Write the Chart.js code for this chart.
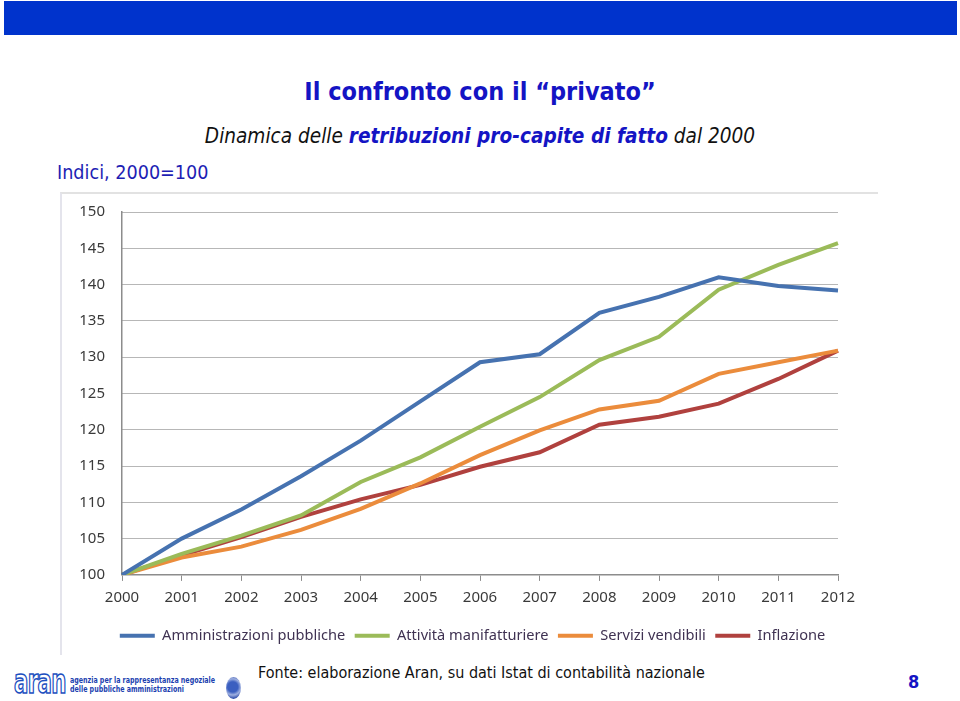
<!DOCTYPE html>
<html>
<head>
<meta charset="utf-8">
<script src="https://cdn.jsdelivr.net/npm/chart.js@4/dist/chart.umd.min.js"></script>
<style>
    body { margin: 0; width: 960px; height: 701px; background: #fff; position: relative; overflow: hidden; font-family: "DejaVu Sans Condensed", "DejaVu Sans", sans-serif; }
    .topbar { position: absolute; left: 4px; top: 1px; width: 953px; height: 34px; background: #0033cc; }
    .title { position: absolute; left: 0; width: 960px; top: 77px; text-align: center; font-size: 25px; font-weight: bold; color: #1414c4; }
    .subtitle { position: absolute; left: 0; width: 960px; top: 124px; text-align: center; font-size: 20.6px; font-style: italic; color: #111; }
    .subtitle b { color: #1414c4; }
    .indici { position: absolute; left: 57px; top: 161px; font-size: 19.6px; color: #1e1eb4; }
    .frame { position: absolute; left: 60px; top: 192px; width: 818px; height: 463px; border-top: 2px solid #e2e2e2; border-left: 2px solid #e4e4ec; box-sizing: border-box; }
    #chart { position: absolute; left: 61px; top: 193px; }
    .fonte { position: absolute; left: 258px; top: 663px; font-size: 16px; color: #111; }
    .page { position: absolute; left: 908px; top: 671px; font-size: 18px; font-weight: bold; color: #1414c4; }
    .logo { position: absolute; left: 14px; top: 664px; font-size: 33px; font-weight: bold; color: #fff; -webkit-text-stroke: 1.6px #1c4fc0; line-height: 36px; letter-spacing: -1px; transform: scaleX(0.72); transform-origin: left; }
    .logo-txt { position: absolute; left: 70px; top: 676px; font-size: 9px; font-weight: bold; color: #1c3fb0; line-height: 9px; white-space: nowrap; transform: scaleX(0.78); transform-origin: left; }
    .emblem { position: absolute; left: 226px; top: 677px; width: 15px; height: 22px; border-radius: 50%; background: radial-gradient(circle at 45% 45%, #3b5fc0 0 35%, #9fb0e0 55%, #2b4aa8 80%); }
</style>
</head>
<body>
<div class="topbar"></div>
<div class="title">Il confronto con il “privato”</div>
<div class="subtitle">Dinamica delle <b>retribuzioni pro-capite di fatto</b> dal 2000</div>
<div class="indici">Indici, 2000=100</div>
<div class="frame"></div>
<canvas id="chart" width="817" height="462"></canvas>
<div class="logo">aran</div>
<div class="logo-txt">agenzia per la rappresentanza negoziale<br>delle pubbliche amministrazioni</div>
<div class="emblem"></div>
<div class="fonte">Fonte: elaborazione Aran, su dati Istat di contabilità nazionale</div>
<div class="page">8</div>
<script>
    const years = ['2000', '2001', '2002', '2003', '2004', '2005', '2006', '2007', '2008', '2009', '2010', '2011', '2012'];
    const amministrazioni = [100, 105.0, 109.0, 113.6, 118.5, 123.9, 129.3, 130.4, 136.1, 138.3, 141.0, 139.8, 139.2];
    const manifatturiere = [100, 102.9, 105.4, 108.2, 112.8, 116.2, 120.4, 124.5, 129.6, 132.8, 139.3, 142.7, 145.7];
    const servizi = [100, 102.4, 103.9, 106.2, 109.1, 112.6, 116.5, 119.9, 122.8, 124.0, 127.7, 129.3, 130.9];
    const inflazione = [100, 102.7, 105.2, 108.0, 110.4, 112.4, 114.9, 116.9, 120.7, 121.8, 123.6, 127.0, 130.9];
    const seriesNames = ['Amministrazioni pubbliche', 'Attività manifatturiere', 'Servizi vendibili', 'Inflazione'];
    const seriesColors = ['#4672b0', '#9bbb59', '#eb8c3c', '#b0413e'];

    const seriesData = [amministrazioni, manifatturiere, servizi, inflazione];

    // the slide's legend sits a bit right of the canvas centre
    const legendShift = {
        id: 'legendShift',
        afterLayout(chart) {
            if (chart.legend) {
                chart.legend.left += 23;
                chart.legend.right += 23;
            }
        }
    };

    const ctx = document.getElementById('chart').getContext('2d');
    new Chart(ctx, {
        type: 'line',
        data: {
            labels: years,
            datasets: seriesData.map((values, i) => ({
                label: seriesNames[i],
                data: values,
                borderColor: seriesColors[i],
                backgroundColor: seriesColors[i],
                borderWidth: 4,
                pointRadius: 0,
                tension: 0,
                fill: false
            }))
        },
        plugins: [legendShift],
        options: {
            responsive: false,
            animation: false,
            layout: {
                padding: { left: 0, right: 40, top: 19, bottom: 2 }
            },
            plugins: {
                legend: {
                    position: 'bottom',
                    labels: {
                        usePointStyle: true,
                        pointStyle: 'line',
                        pointStyleWidth: 35,
                        boxHeight: 4,
                        padding: 9.5,
                        color: '#3f3252',
                        font: { family: 'Noto Sans', size: 14.6 }
                    }
                },
                tooltip: { enabled: false }
            },
            scales: {
                x: {
                    afterFit: function(scale) {
                        scale.height = 44;
                        scale.paddingLeft = 0;
                        scale.paddingRight = 0;
                    },
                    grid: {
                        drawOnChartArea: false,
                        drawTicks: true,
                        tickLength: 6,
                        color: '#8c8c8c'
                    },
                    border: { color: '#8c8c8c', width: 1.5 },
                    ticks: {
                        padding: 8,
                        color: '#3a3a3a',
                        font: { family: 'Noto Sans', size: 15 },
                        maxRotation: 0
                    }
                },
                y: {
                    min: 100,
                    max: 150,
                    afterFit: function(scale) {
                        scale.width = 61;
                        scale.paddingTop = 0;
                        scale.paddingBottom = 0;
                    },
                    grid: {
                        drawTicks: false,
                        color: '#6e6e6e',
                        lineWidth: 1
                    },
                    border: { color: '#8c8c8c', width: 1.5, dash: [1, 1] },
                    ticks: {
                        stepSize: 5,
                        padding: 17,
                        color: '#3a3a3a',
                        font: { family: 'Noto Sans', size: 15 }
                    }
                }
            }
        }
    });
</script>
</body>
</html>
